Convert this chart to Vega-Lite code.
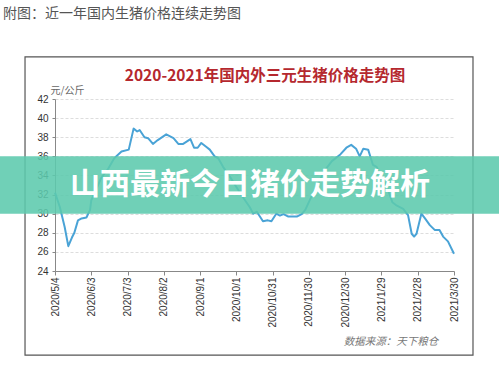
{
  "$schema": "https://vega.github.io/schema/vega-lite/v6.json",
  "width": 399,
  "height": 172,
  "autosize": {"type": "none"},
  "padding": {"top": 99, "left": 55, "right": 45, "bottom": 99},
  "background": "white",
  "config": {
    "view": {"stroke": null},
    "axis": {"labelOverlap": false, "labelFlush": false, "labelBound": false}
  },
  "layer": [
    {
      "data": {"values": [{}]},
      "mark": {"type": "rect", "filled": false, "stroke": "#555", "strokeWidth": 1.2},
      "encoding": {
        "x": {"datum": {"year": 2020, "month": 4, "date": 9, "hours": 5}, "type": "temporal"},
        "x2": {"datum": {"year": 2021, "month": 4, "date": 14, "hours": 17}},
        "y": {"datum": 46.4, "type": "quantitative"},
        "y2": {"datum": 15.2}
      }
    },
    {
      "data": {"values": [
        {"date": "2020/5/4", "price": 32.2},
        {"date": "2020/5/8", "price": 30.7},
        {"date": "2020/5/12", "price": 28.6},
        {"date": "2020/5/15", "price": 26.6},
        {"date": "2020/5/18", "price": 27.5},
        {"date": "2020/5/20", "price": 28.0},
        {"date": "2020/5/23", "price": 29.3},
        {"date": "2020/5/26", "price": 29.5},
        {"date": "2020/5/30", "price": 29.6},
        {"date": "2020/6/2", "price": 30.4},
        {"date": "2020/6/3", "price": 31.4},
        {"date": "2020/6/7", "price": 32.5},
        {"date": "2020/6/11", "price": 33.7},
        {"date": "2020/6/17", "price": 34.7},
        {"date": "2020/6/22", "price": 35.8},
        {"date": "2020/6/28", "price": 36.5},
        {"date": "2020/7/4", "price": 36.7},
        {"date": "2020/7/8", "price": 38.9},
        {"date": "2020/7/11", "price": 38.6},
        {"date": "2020/7/13", "price": 38.75},
        {"date": "2020/7/17", "price": 38.0},
        {"date": "2020/7/20", "price": 37.9},
        {"date": "2020/7/24", "price": 37.3},
        {"date": "2020/7/28", "price": 37.7},
        {"date": "2020/8/4", "price": 38.3},
        {"date": "2020/8/10", "price": 37.9},
        {"date": "2020/8/14", "price": 37.3},
        {"date": "2020/8/18", "price": 37.3},
        {"date": "2020/8/24", "price": 37.8},
        {"date": "2020/8/27", "price": 36.9},
        {"date": "2020/8/30", "price": 36.9},
        {"date": "2020/9/2", "price": 37.4},
        {"date": "2020/9/6", "price": 37.0},
        {"date": "2020/9/9", "price": 36.7},
        {"date": "2020/9/13", "price": 36.0},
        {"date": "2020/9/16", "price": 35.8},
        {"date": "2020/9/20", "price": 34.9},
        {"date": "2020/9/26", "price": 33.8},
        {"date": "2020/10/1", "price": 32.8},
        {"date": "2020/10/6", "price": 31.8},
        {"date": "2020/10/12", "price": 30.7},
        {"date": "2020/10/15", "price": 30.0},
        {"date": "2020/10/18", "price": 30.2},
        {"date": "2020/10/19", "price": 30.0},
        {"date": "2020/10/23", "price": 29.2},
        {"date": "2020/10/27", "price": 29.3},
        {"date": "2020/10/30", "price": 29.2},
        {"date": "2020/11/3", "price": 30.0},
        {"date": "2020/11/6", "price": 29.8},
        {"date": "2020/11/9", "price": 29.95},
        {"date": "2020/11/13", "price": 29.7},
        {"date": "2020/11/20", "price": 29.7},
        {"date": "2020/11/24", "price": 29.95},
        {"date": "2020/11/27", "price": 30.4},
        {"date": "2020/12/1", "price": 31.5},
        {"date": "2020/12/7", "price": 33.0},
        {"date": "2020/12/13", "price": 34.5},
        {"date": "2020/12/19", "price": 35.5},
        {"date": "2020/12/26", "price": 36.2},
        {"date": "2020/12/31", "price": 36.9},
        {"date": "2021/1/4", "price": 37.2},
        {"date": "2021/1/8", "price": 36.8},
        {"date": "2021/1/11", "price": 36.0},
        {"date": "2021/1/14", "price": 36.8},
        {"date": "2021/1/18", "price": 36.7},
        {"date": "2021/1/22", "price": 35.1},
        {"date": "2021/1/25", "price": 34.9},
        {"date": "2021/1/29", "price": 33.8},
        {"date": "2021/2/2", "price": 33.0},
        {"date": "2021/2/7", "price": 31.2},
        {"date": "2021/2/10", "price": 30.9},
        {"date": "2021/2/16", "price": 30.5},
        {"date": "2021/2/20", "price": 29.85},
        {"date": "2021/2/23", "price": 27.9},
        {"date": "2021/2/25", "price": 27.6},
        {"date": "2021/2/27", "price": 27.9},
        {"date": "2021/3/3", "price": 30.0},
        {"date": "2021/3/6", "price": 29.5},
        {"date": "2021/3/10", "price": 28.8},
        {"date": "2021/3/14", "price": 28.3},
        {"date": "2021/3/18", "price": 28.3},
        {"date": "2021/3/21", "price": 27.6},
        {"date": "2021/3/25", "price": 27.1},
        {"date": "2021/3/30", "price": 25.8}
      ]},
      "mark": {"type": "line", "color": "#4aa3d6", "strokeWidth": 2, "strokeJoin": "round"},
      "encoding": {
        "x": {
          "field": "date", "type": "temporal",
          "scale": {"domain": [{"year": 2020, "month": 5, "date": 4}, {"year": 2021, "month": 3, "date": 30}]},
          "axis": {
            "values": [
              {"year": 2020, "month": 5, "date": 4},
              {"year": 2020, "month": 6, "date": 3},
              {"year": 2020, "month": 7, "date": 3},
              {"year": 2020, "month": 8, "date": 2},
              {"year": 2020, "month": 9, "date": 1},
              {"year": 2020, "month": 10, "date": 1},
              {"year": 2020, "month": 10, "date": 31},
              {"year": 2020, "month": 11, "date": 30},
              {"year": 2020, "month": 12, "date": 30},
              {"year": 2021, "month": 1, "date": 29},
              {"year": 2021, "month": 2, "date": 28},
              {"year": 2021, "month": 3, "date": 30}
            ],
            "tickCount": 40,
            "format": "%Y/%-m/%-d",
            "labelAngle": -90,
            "labelFont": "Liberation Sans",
            "labelFontSize": 10,
            "labelColor": "#333",
            "labelPadding": 2,
            "labelOverlap": false,
            "tickSize": 4,
            "tickColor": "#888",
            "domainColor": "#888",
            "grid": false,
            "title": null
          }
        },
        "y": {
          "field": "price", "type": "quantitative",
          "scale": {"domain": [24, 42], "nice": false, "zero": false},
          "axis": {
            "values": [24, 26, 28, 30, 32, 34, 36, 38, 40, 42],
            "tickCount": 40,
            "format": "d",
            "labelOverlap": false,
            "grid": true,
            "gridColor": "#dddddd",
            "gridDash": [3, 2],
            "domainColor": "#888",
            "tickColor": "#888",
            "tickSize": 3,
            "labelFont": "Liberation Sans",
            "labelFontSize": 10,
            "labelColor": "#333",
            "labelPadding": 4,
            "title": "元/公斤",
            "titleAngle": 0,
            "titleAlign": "left",
            "titleBaseline": "alphabetic",
            "titleX": -5,
            "titleY": -6,
            "titleFont": "Noto Sans CJK SC",
            "titleFontSize": 10,
            "titleFontWeight": "normal",
            "titleColor": "#666"
          }
        }
      }
    },
    {
      "data": {"values": [{}]},
      "mark": {"type": "rect", "color": "#5cc9ad", "opacity": 0.88},
      "encoding": {
        "x": {"datum": {"year": 2020, "month": 3, "date": 15}, "type": "temporal"},
        "x2": {"datum": {"year": 2021, "month": 5, "date": 10}},
        "y": {"datum": 36, "type": "quantitative"},
        "y2": {"datum": 30}
      }
    },
    {
      "data": {"values": [{}]},
      "mark": {"type": "text", "text": "山西最新今日猪价走势解析", "align": "center", "baseline": "middle", "font": "Noto Sans CJK SC", "fontSize": 30, "fontWeight": "bold", "color": "white"},
      "encoding": {
        "x": {"datum": {"year": 2020, "month": 10, "date": 12, "hours": 7}, "type": "temporal"},
        "y": {"datum": 33.0, "type": "quantitative"}
      }
    },
    {
      "data": {"values": [{}]},
      "mark": {"type": "text", "text": "附图：近一年国内生猪价格连续走势图", "align": "left", "baseline": "middle", "font": "Noto Sans CJK SC", "fontSize": 14, "color": "#555"},
      "encoding": {
        "x": {"datum": {"year": 2020, "month": 3, "date": 22}, "type": "temporal"},
        "y": {"datum": 50.9, "type": "quantitative"}
      }
    },
    {
      "data": {"values": [{}]},
      "mark": {"type": "text", "text": "2020-2021年国内外三元生猪价格走势图", "align": "center", "baseline": "middle", "font": "Noto Sans CJK SC", "fontSize": 15.5, "fontWeight": "bold", "color": "#b5282e"},
      "encoding": {
        "x": {"datum": {"year": 2020, "month": 10, "date": 24, "hours": 17}, "type": "temporal"},
        "y": {"datum": 44.4, "type": "quantitative"}
      }
    },
    {
      "data": {"values": [{}]},
      "mark": {"type": "text", "text": "数据来源：天下粮仓", "align": "center", "baseline": "middle", "font": "Noto Sans CJK SC", "fontSize": 10.5, "fontStyle": "italic", "color": "#777"},
      "encoding": {
        "x": {"datum": {"year": 2021, "month": 2, "date": 5, "hours": 19}, "type": "temporal"},
        "y": {"datum": 16.55, "type": "quantitative"}
      }
    }
  ]
}
